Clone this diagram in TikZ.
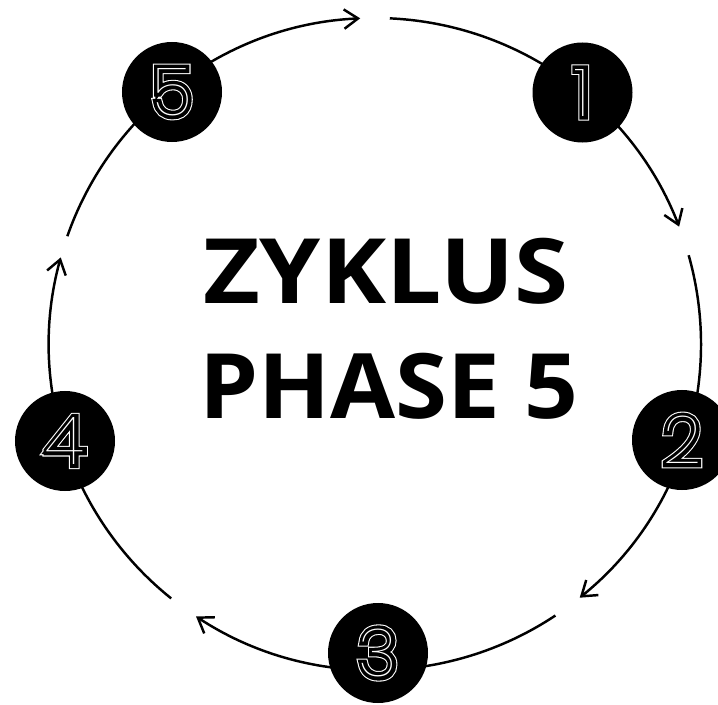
\documentclass[tikz,border=0pt]{standalone}
\usepackage{fontspec}
\setmainfont{Open Sans}
\usetikzlibrary{arrows.meta}
\IfFontExistsTF{Poppins Thin}{%
  \newfontfamily\digW{Poppins Thin}[FakeBold=14]
  \newfontfamily\digK{Poppins Thin}[FakeBold=10.8]
  \newfontfamily\digC{Poppins Thin}
}{%
  \newfontfamily\digW{DejaVu Sans}[FakeBold=14]
  \newfontfamily\digK{DejaVu Sans}[FakeBold=10.8]
  \newfontfamily\digC{DejaVu Sans}
}
\newcommand\multidigit[1]{%
  \makebox[0pt]{\digW\color{white}#1}%
  \makebox[0pt]{\digK\color{black}#1}%
  \makebox[0pt]{\digC\color{white}#1}}
\begin{document}
\begin{tikzpicture}[x=0.03cm, y=-0.03cm, miter limit=3,
  cyc/.style={line width=2.1pt, -{Straight Barb[length=0.42cm,width=0.58cm]}},
  numnode/.style={circle, fill=black, minimum size=3cm, inner sep=0pt,
    font=\fontsize{57}{57}\selectfont},
  titletext/.style={font=\bfseries\fontsize{77}{77}\selectfont, anchor=base, inner sep=0pt}]
\useasboundingbox (0,0) rectangle (718,705);
\coordinate (c) at (375,344);
\path (c) ++(-87.4:326) coordinate (a1);
\path (c) ++(-15.8:326) coordinate (a2);
\path (c) ++(56.4:326) coordinate (a3);
\path (c) ++(128.7:326) coordinate (a4);
\path (c) ++(199.3:326) coordinate (a5);
\draw[cyc] (a1) arc[start angle=-87.4, end angle=-21.1, radius=326];
\draw[cyc] (a2) arc[start angle=-15.8, end angle=51.1, radius=326];
\draw[cyc] (a3) arc[start angle=56.4, end angle=123.3, radius=326];
\draw[cyc] (a4) arc[start angle=128.7, end angle=195.4, radius=326];
\draw[cyc] (a5) arc[start angle=199.3, end angle=267.4, radius=326];
\node[numnode] (n1) at (582.5,92.5) {\multidigit{1}};
\node[numnode] (n2) at (682,440) {\multidigit{2}};
\node[numnode] (n3) at (378,653) {\multidigit{3}};
\node[numnode] (n4) at (65,441) {\multidigit{4}};
\node[numnode] (n5) at (172,92) {\multidigit{5}};
\node[titletext] (t1) at (386,303.3) {\scalebox{1.087}[1]{ZYKLUS}};
\node[titletext] (t2) at (389,418) {\scalebox{1.045}[1]{PHASE 5}};
\end{tikzpicture}
\end{document}
